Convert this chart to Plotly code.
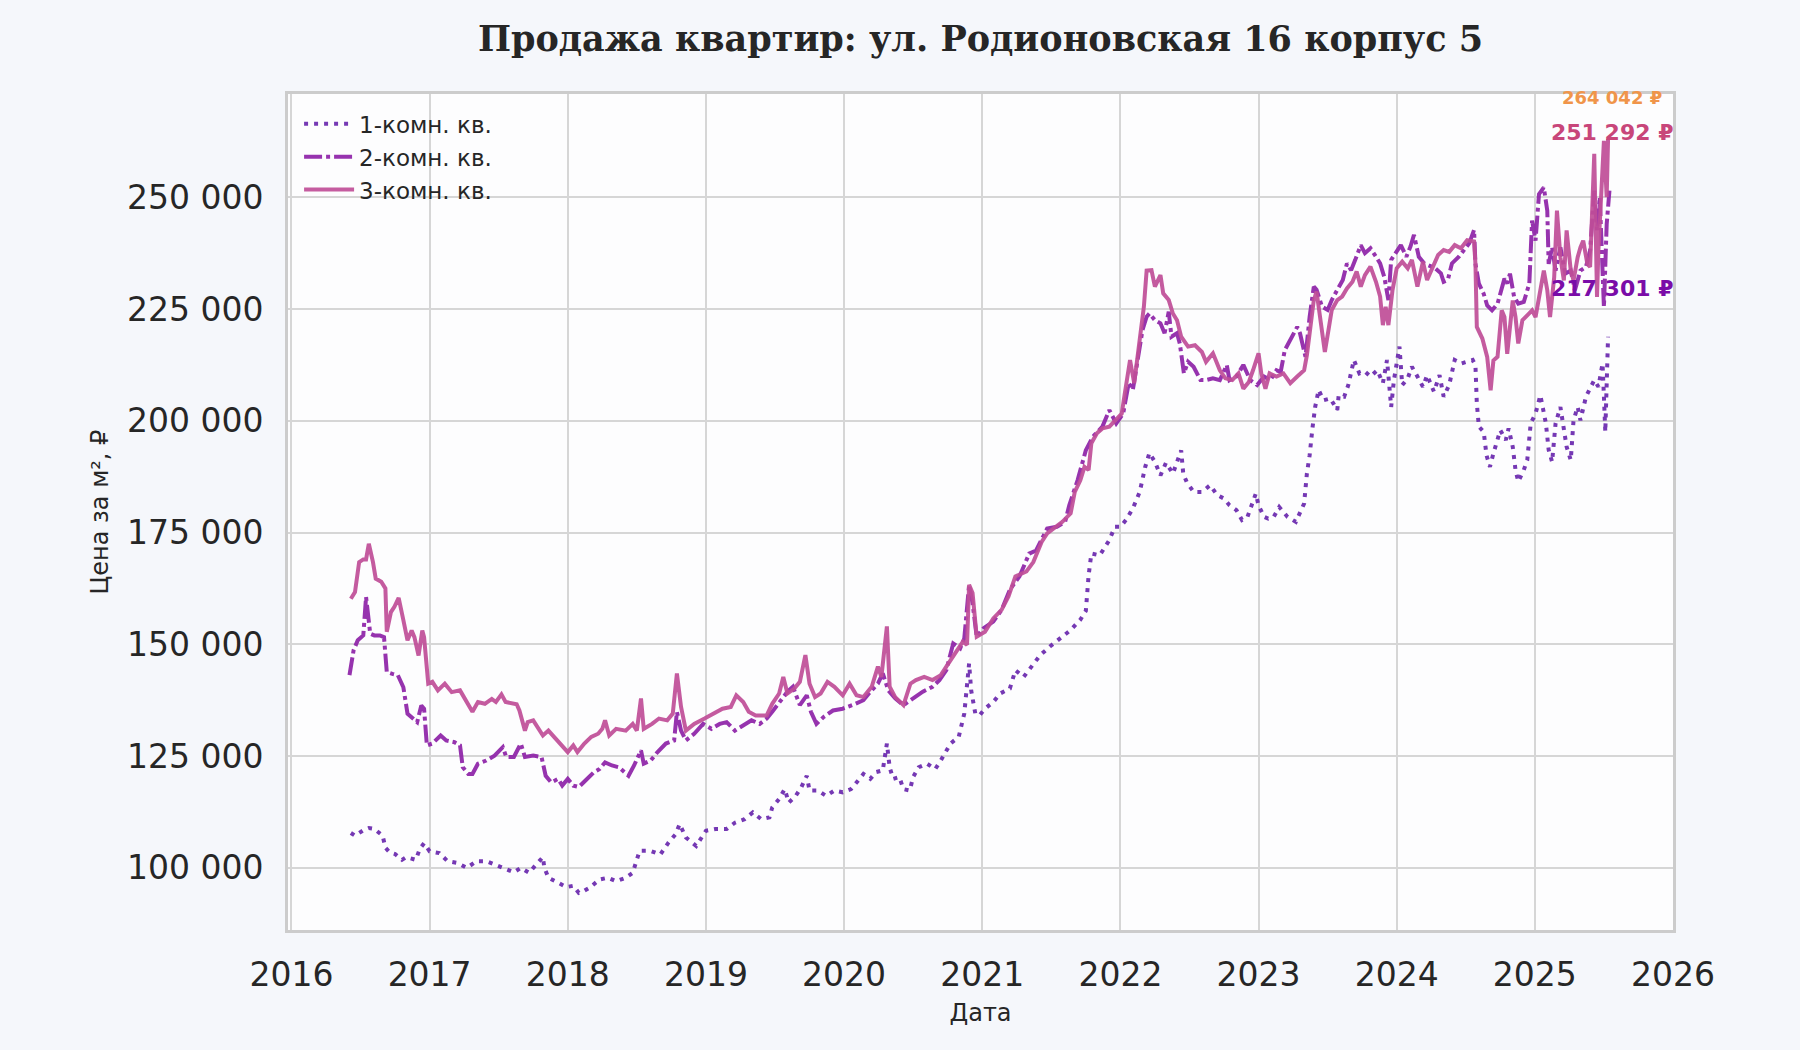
import plotly.graph_objects as go

# даты как доля года, цены в тыс. руб за м2
years_1k = [
    2016.43, 2016.46, 2016.52, 2016.56, 2016.60, 2016.66, 2016.68, 2016.71, 2016.75, 2016.80,
    2016.83, 2016.90, 2016.93, 2016.96, 2017.00, 2017.07, 2017.13, 2017.20, 2017.27, 2017.34,
    2017.41, 2017.49, 2017.55, 2017.61, 2017.66, 2017.72, 2017.77, 2017.82, 2017.83, 2017.86,
    2017.93, 2017.99, 2018.04, 2018.08, 2018.11, 2018.16, 2018.23, 2018.29, 2018.35, 2018.42,
    2018.47, 2018.52, 2018.60, 2018.67, 2018.73, 2018.78, 2018.81, 2018.855, 2018.93, 2019.00,
    2019.07, 2019.15, 2019.21, 2019.28, 2019.34, 2019.40, 2019.46, 2019.48, 2019.53, 2019.57,
    2019.60, 2019.65, 2019.69, 2019.73, 2019.75, 2019.81, 2019.87, 2019.93, 2019.99, 2020.05,
    2020.09, 2020.14, 2020.19, 2020.23, 2020.28, 2020.31, 2020.33, 2020.355, 2020.40, 2020.43,
    2020.475, 2020.50, 2020.54, 2020.60, 2020.66, 2020.70, 2020.77, 2020.83, 2020.87, 2020.905,
    2020.92, 2020.95, 2020.98, 2021.02, 2021.08, 2021.13, 2021.20, 2021.24, 2021.30, 2021.36,
    2021.42, 2021.49, 2021.56, 2021.64, 2021.71, 2021.75, 2021.77, 2021.79, 2021.85, 2021.92,
    2021.96, 2022.00, 2022.04, 2022.09, 2022.14, 2022.18, 2022.21, 2022.25, 2022.29, 2022.33,
    2022.38, 2022.44, 2022.455, 2022.48, 2022.53, 2022.59, 2022.65, 2022.70, 2022.75, 2022.79,
    2022.84, 2022.88, 2022.92, 2022.98, 2023.00, 2023.04, 2023.07, 2023.11, 2023.15, 2023.21,
    2023.27, 2023.33, 2023.35, 2023.37, 2023.39, 2023.41, 2023.435, 2023.47, 2023.52, 2023.57,
    2023.58, 2023.62, 2023.65, 2023.69, 2023.73, 2023.77, 2023.81, 2023.86, 2023.90, 2023.93,
    2023.96, 2023.98, 2024.02, 2024.04, 2024.08, 2024.11, 2024.15, 2024.19, 2024.22, 2024.27,
    2024.31, 2024.34, 2024.38, 2024.42, 2024.465, 2024.51, 2024.55, 2024.57, 2024.58, 2024.595,
    2024.63, 2024.65, 2024.675, 2024.70, 2024.75, 2024.79, 2024.81, 2024.84, 2024.86, 2024.88,
    2024.92, 2024.945, 2024.97, 2025.005, 2025.04, 2025.08, 2025.10, 2025.125, 2025.15, 2025.185,
    2025.21, 2025.23, 2025.26, 2025.28, 2025.31, 2025.33, 2025.37, 2025.40, 2025.43, 2025.46,
    2025.49, 2025.50, 2025.51, 2025.52, 2025.53,
]
price_1k = [
    107.8, 107.2, 108.4, 108.9, 108.7, 107.2, 104.5, 103.5, 103.1, 101.8,
    102.4, 101.8, 104.3, 105.5, 103.7, 103.3, 101.5, 101.1, 100.0, 101.5,
    101.5, 100.5, 99.8, 99.0, 100.0, 98.9, 100.7, 102.4, 100.1, 97.8,
    96.7, 95.7, 96.0, 94.4, 94.7, 95.6, 97.4, 97.8, 97.0, 97.8,
    98.9, 103.8, 103.8, 103.0, 105.7, 107.5, 109.8, 106.8, 104.9, 108.3,
    108.7, 108.7, 110.1, 110.9, 112.4, 110.9, 111.3, 113.5, 115.4, 117.6,
    114.6, 116.1, 118.0, 120.6, 117.3, 117.3, 116.1, 117.3, 116.9, 117.6,
    119.1, 121.0, 119.9, 121.4, 121.8, 127.8, 122.5, 119.9, 120.3, 117.6,
    117.3, 120.3, 122.5, 123.3, 122.1, 124.0, 127.8, 129.3, 134.5, 145.7,
    139.7, 134.5, 134.1, 135.6, 137.1, 139.0, 140.1, 144.2, 142.7, 145.0,
    147.6, 149.5, 151.3, 153.2, 155.5, 157.5, 165.4, 170.3, 169.9, 173.3,
    176.3, 176.3, 177.8, 180.4, 184.1, 189.7, 192.8, 190.8, 187.8, 190.6,
    188.2, 193.4, 188.2, 186.3, 184.1, 184.1, 185.6, 183.4, 182.6, 181.1,
    180.0, 177.8, 178.5, 183.7, 181.1, 178.5, 178.1, 178.5, 180.7, 178.5,
    177.4, 181.5, 188.2, 192.3, 198.3, 203.1, 206.9, 204.6, 205.0, 202.4,
    205.7, 205.4, 208.0, 213.6, 210.6, 211.0, 209.9, 211.3, 208.4, 213.6,
    203.1, 209.1, 216.6, 208.0, 209.5, 212.1, 209.9, 207.6, 210.2, 206.5,
    210.2, 205.4, 208.0, 213.6, 212.8, 213.2, 213.6, 212.4, 203.9, 198.7,
    197.5, 192.3, 189.7, 192.7, 197.9, 195.7, 198.3, 194.2, 189.0, 186.4,
    189.0, 191.2, 199.4, 201.6, 205.7, 199.4, 193.5, 190.8, 199.4, 203.1,
    197.2, 194.2, 191.2, 200.1, 203.1, 200.1, 205.4, 207.2, 209.1, 207.6,
    212.8, 205.4, 197.5, 208.3, 218.8,
]

years_2k = [
    2016.42, 2016.45, 2016.48, 2016.52, 2016.54, 2016.56, 2016.57, 2016.60, 2016.64, 2016.67,
    2016.69, 2016.73, 2016.77, 2016.81, 2016.84, 2016.88, 2016.91, 2016.94, 2016.96, 2016.98,
    2017.02, 2017.08, 2017.12, 2017.18, 2017.22, 2017.24, 2017.28, 2017.31, 2017.35, 2017.41,
    2017.47, 2017.53, 2017.555, 2017.61, 2017.66, 2017.69, 2017.75, 2017.81, 2017.84, 2017.88,
    2017.93, 2017.96, 2018.00, 2018.04, 2018.08, 2018.13, 2018.19, 2018.23, 2018.27, 2018.32,
    2018.37, 2018.44, 2018.48, 2018.53, 2018.55, 2018.60, 2018.65, 2018.71, 2018.77, 2018.79,
    2018.82, 2018.855, 2018.915, 2018.98, 2019.04, 2019.10, 2019.15, 2019.21, 2019.27, 2019.33,
    2019.39, 2019.44, 2019.48, 2019.53, 2019.59, 2019.63, 2019.68, 2019.73, 2019.76, 2019.80,
    2019.85, 2019.92, 2019.99, 2020.06, 2020.14, 2020.19, 2020.245, 2020.28, 2020.32, 2020.37,
    2020.43, 2020.50, 2020.57, 2020.64, 2020.69, 2020.74, 2020.79, 2020.84, 2020.87, 2020.905,
    2020.93, 2020.96, 2021.01, 2021.08, 2021.14, 2021.20, 2021.27, 2021.34, 2021.39, 2021.47,
    2021.54, 2021.60, 2021.63, 2021.69, 2021.75, 2021.80, 2021.87, 2021.92, 2021.97, 2022.02,
    2022.06, 2022.09, 2022.13, 2022.16, 2022.19, 2022.21, 2022.25, 2022.29, 2022.32, 2022.35,
    2022.37, 2022.41, 2022.43, 2022.46, 2022.49, 2022.53, 2022.58, 2022.62, 2022.67, 2022.72,
    2022.77, 2022.79, 2022.84, 2022.89, 2022.94, 2022.99, 2023.04, 2023.085, 2023.13, 2023.16,
    2023.19, 2023.23, 2023.28, 2023.30, 2023.34, 2023.37, 2023.40, 2023.42, 2023.46, 2023.50,
    2023.53, 2023.57, 2023.61, 2023.64, 2023.67, 2023.70, 2023.74, 2023.77, 2023.81, 2023.85,
    2023.88, 2023.91, 2023.94, 2023.96, 2023.99, 2024.03, 2024.07, 2024.10, 2024.125, 2024.16,
    2024.20, 2024.25, 2024.28, 2024.32, 2024.34, 2024.37, 2024.40, 2024.45, 2024.49, 2024.525,
    2024.56, 2024.57, 2024.595, 2024.63, 2024.655, 2024.69, 2024.73, 2024.75, 2024.78, 2024.80,
    2024.82, 2024.85, 2024.88, 2024.92, 2024.96, 2024.98, 2025.005, 2025.03, 2025.065, 2025.09,
    2025.10, 2025.125, 2025.15, 2025.185, 2025.22, 2025.26, 2025.29, 2025.33, 2025.37, 2025.40,
    2025.43, 2025.45, 2025.47, 2025.50, 2025.52, 2025.54,
]
price_2k = [
    143.1, 148.7, 150.9, 152.0, 160.6, 156.1, 152.4, 152.0, 152.0, 151.6,
    143.8, 143.4, 143.1, 140.4, 134.5, 133.4, 132.6, 136.3, 135.6, 127.4,
    127.8, 129.6, 128.5, 128.1, 127.4, 122.5, 121.0, 121.0, 123.3, 124.0,
    125.1, 127.0, 124.8, 124.8, 127.8, 124.8, 125.1, 124.8, 120.6, 119.1,
    119.9, 118.4, 119.9, 118.4, 118.1, 119.6, 121.4, 122.1, 123.6, 122.9,
    122.5, 120.6, 122.9, 126.3, 123.3, 124.0, 125.9, 127.8, 128.5, 134.9,
    130.7, 128.5, 130.0, 132.2, 131.1, 132.2, 132.6, 130.7, 131.9, 133.0,
    132.2, 133.4, 134.9, 137.1, 139.4, 140.5, 136.4, 138.6, 134.9, 132.2,
    133.7, 135.2, 135.6, 136.4, 137.5, 139.4, 141.2, 143.5, 139.7, 137.9,
    136.4, 137.9, 139.4, 140.5, 142.0, 144.2, 150.2, 149.1, 151.3, 163.3,
    159.2, 151.7, 153.6, 155.1, 157.7, 162.2, 165.2, 170.3, 171.0, 175.9,
    176.3, 177.4, 181.1, 186.7, 193.4, 196.4, 198.7, 202.4, 199.4, 201.6,
    208.4, 206.9, 214.3, 220.3, 223.3, 224.0, 222.5, 221.8, 219.6, 224.4,
    218.8, 219.6, 217.3, 210.6, 213.2, 212.1, 209.1, 209.1, 209.5, 209.1,
    212.5, 209.1, 209.9, 212.5, 209.1, 208.0, 209.9, 209.1, 211.3, 210.9,
    215.8, 218.1, 221.0, 219.6, 214.3, 223.3, 230.0, 229.3, 225.5, 224.8,
    227.0, 229.3, 231.5, 235.2, 233.7, 236.0, 239.3, 237.5, 238.6, 236.7,
    235.2, 232.2, 227.0, 236.0, 237.5, 239.3, 236.7, 239.0, 241.6, 236.7,
    235.2, 234.5, 234.1, 233.0, 231.1, 231.5, 235.2, 236.7, 238.2, 239.7,
    242.7, 235.1, 230.7, 228.4, 225.8, 224.7, 226.2, 228.4, 231.8, 230.7,
    232.9, 227.7, 226.2, 226.6, 230.7, 244.8, 240.3, 250.7, 252.2, 247.0,
    235.1, 238.8, 233.6, 238.8, 232.9, 233.6, 229.2, 233.6, 234.4, 238.1,
    251.5, 242.6, 250.0, 225.4, 244.0, 251.5,
]

years_3k = [
    2016.43, 2016.46, 2016.49, 2016.52, 2016.54, 2016.56, 2016.59, 2016.61, 2016.65, 2016.68,
    2016.69, 2016.72, 2016.745, 2016.776, 2016.81, 2016.84, 2016.87, 2016.89, 2016.92, 2016.947,
    2016.96, 2016.99, 2017.02, 2017.06, 2017.11, 2017.16, 2017.22, 2017.26, 2017.31, 2017.35,
    2017.40, 2017.45, 2017.48, 2017.52, 2017.55, 2017.63, 2017.65, 2017.69, 2017.71, 2017.75,
    2017.78, 2017.82, 2017.86, 2017.92, 2018.00, 2018.04, 2018.07, 2018.12, 2018.17, 2018.22,
    2018.25, 2018.27, 2018.30, 2018.35, 2018.42, 2018.47, 2018.50, 2018.53, 2018.55, 2018.61,
    2018.66, 2018.72, 2018.76, 2018.79, 2018.82, 2018.855, 2018.915, 2018.99, 2019.05, 2019.12,
    2019.18, 2019.22, 2019.27, 2019.31, 2019.36, 2019.44, 2019.48, 2019.53, 2019.56, 2019.59,
    2019.64, 2019.68, 2019.72, 2019.75, 2019.79, 2019.83, 2019.88, 2019.93, 2019.99, 2020.04,
    2020.09, 2020.14, 2020.20, 2020.245, 2020.27, 2020.31, 2020.33, 2020.37, 2020.43, 2020.48,
    2020.52, 2020.58, 2020.64, 2020.70, 2020.74, 2020.80, 2020.86, 2020.89, 2020.905, 2020.93,
    2020.96, 2021.02, 2021.08, 2021.14, 2021.19, 2021.24, 2021.32, 2021.37, 2021.43, 2021.47,
    2021.53, 2021.58, 2021.64, 2021.67, 2021.71, 2021.74, 2021.77, 2021.79, 2021.83, 2021.87,
    2021.92, 2021.96, 2022.01, 2022.03, 2022.07, 2022.10, 2022.14, 2022.17, 2022.19, 2022.225,
    2022.25, 2022.29, 2022.31, 2022.35, 2022.38, 2022.41, 2022.44, 2022.49, 2022.54, 2022.59,
    2022.62, 2022.67, 2022.72, 2022.76, 2022.81, 2022.855, 2022.89, 2022.93, 2022.96, 2023.00,
    2023.02, 2023.05, 2023.08, 2023.13, 2023.18, 2023.23, 2023.28, 2023.33, 2023.35, 2023.375,
    2023.40, 2023.42, 2023.45, 2023.48, 2023.51, 2023.53, 2023.57, 2023.605, 2023.64, 2023.68,
    2023.71, 2023.74, 2023.77, 2023.81, 2023.85, 2023.88, 2023.90, 2023.92, 2023.94, 2023.97,
    2024.00, 2024.04, 2024.08, 2024.11, 2024.15, 2024.19, 2024.22, 2024.26, 2024.30, 2024.34,
    2024.38, 2024.42, 2024.465, 2024.51, 2024.56, 2024.57, 2024.58, 2024.62, 2024.655, 2024.68,
    2024.70, 2024.73, 2024.76, 2024.78, 2024.80, 2024.84, 2024.86, 2024.88, 2024.91, 2024.945,
    2024.98, 2025.005, 2025.04, 2025.065, 2025.09, 2025.11, 2025.14, 2025.16, 2025.185, 2025.21,
    2025.23, 2025.26, 2025.28, 2025.31, 2025.33, 2025.35, 2025.38, 2025.40, 2025.43, 2025.45,
    2025.46, 2025.49, 2025.50, 2025.52, 2025.53,
]
price_3k = [
    160.2, 161.7, 168.4, 169.0, 169.0, 172.5, 168.4, 164.7, 164.0, 162.5,
    152.8, 157.2, 158.4, 160.4, 155.4, 150.9, 153.1, 151.6, 147.5, 153.1,
    151.6, 141.2, 141.6, 139.7, 141.2, 139.3, 139.7, 137.5, 134.9, 137.1,
    136.7, 137.8, 137.1, 138.8, 137.1, 136.6, 135.2, 130.7, 132.6, 133.0,
    131.5, 129.6, 130.7, 128.5, 125.9, 127.4, 125.9, 127.8, 129.3, 130.0,
    131.1, 133.0, 129.6, 131.1, 130.7, 132.2, 130.7, 137.9, 131.1, 132.2,
    133.4, 133.0, 134.5, 143.5, 136.0, 130.7, 132.2, 133.4, 134.5, 135.6,
    136.0, 138.6, 137.1, 134.9, 134.1, 134.1, 136.7, 139.0, 142.7, 139.0,
    140.1, 141.6, 147.6, 141.2, 138.2, 139.0, 141.6, 140.5, 138.6, 141.2,
    138.6, 138.2, 140.5, 145.0, 142.7, 154.0, 140.5, 138.2, 136.4, 141.2,
    142.0, 142.7, 142.0, 143.1, 145.0, 148.0, 150.6, 149.9, 163.3, 161.5,
    151.7, 152.8, 155.8, 157.7, 160.7, 165.2, 166.3, 168.4, 172.9, 174.8,
    176.3, 177.4, 179.3, 184.1, 186.7, 189.7, 189.0, 195.0, 197.2, 198.3,
    198.7, 200.1, 201.6, 205.7, 213.6, 208.4, 218.8, 225.5, 233.6, 233.7,
    230.0, 232.6, 228.5, 227.0, 224.0, 222.5, 218.8, 216.6, 216.9, 215.4,
    213.2, 215.1, 211.3, 209.5, 209.1, 210.6, 207.2, 208.7, 211.3, 215.1,
    210.6, 207.2, 210.6, 209.9, 210.6, 208.4, 209.9, 211.3, 214.7, 221.8,
    227.0, 228.9, 222.5, 215.4, 221.0, 224.8, 227.0, 227.8, 229.6, 231.1,
    233.4, 230.0, 232.6, 234.5, 231.1, 227.8, 221.4, 225.5, 221.4, 229.3,
    234.1, 235.6, 234.1, 236.0, 230.0, 235.6, 231.5, 234.1, 237.1, 238.2,
    237.8, 239.3, 238.6, 240.4, 240.1, 235.1, 221.0, 218.4, 214.3, 206.8,
    213.5, 214.3, 224.7, 223.2, 215.0, 226.9, 223.2, 217.3, 222.5, 223.6,
    224.7, 223.2, 229.9, 233.6, 229.2, 223.2, 232.1, 247.0, 236.6, 231.4,
    242.6, 233.6, 231.4, 236.6, 238.8, 240.3, 235.1, 234.4, 259.7, 227.7,
    238.1, 256.0, 262.6, 250.0, 263.0,
]

series_names = ["1-комн. кв.", "2-комн. кв.", "3-комн. кв."]
series_colors = ["#6a28ae", "#8e22a8", "#c04e98"]
series_dash = ["4px,6px", "18px,4px,4px,4px", "solid"]

label_texts = ["264 042 ₽", "251 292 ₽", "217 301 ₽"]
label_values = [272300, 264400, 229700]
label_colors = ["#f0954a", "#c8467a", "#7a0ca8"]
label_sizes = [18, 22, 22]

fig = go.Figure()
for name, xs, ys, color, dash in zip(
    series_names,
    [years_1k, years_2k, years_3k],
    [price_1k, price_2k, price_3k],
    series_colors,
    series_dash,
):
    fig.add_trace(go.Scatter(
        x=xs,
        y=[v * 1000 for v in ys],
        mode="lines",
        name=name,
        opacity=0.92,
        line=dict(color=color, width=4, dash=dash),
    ))

for text, val, color, size in zip(label_texts, label_values, label_colors, label_sizes):
    fig.add_annotation(
        x=2025.555, y=val, xref="x", yref="y",
        text="<b>%s</b>" % text, showarrow=False,
        xanchor="center", yanchor="middle",
        font=dict(family="DejaVu Sans", size=size, color=color),
    )

fig.update_layout(
    width=1800,
    height=1050,
    paper_bgcolor="#f5f7fb",
    plot_bgcolor="#fdfdfe",
    separators=", ",
    font=dict(family="DejaVu Sans", color="#262626"),
    margin=dict(l=288, r=127, t=94, b=120),
    title=dict(
        text="<b>Продажа квартир: ул. Родионовская 16 корпус 5</b>",
        x=0.5, xref="paper", xanchor="center",
        y=1 - 39 / 1050, yanchor="middle",
        font=dict(family="DejaVu Serif", size=35, color="#262626"),
    ),
    legend=dict(
        x=0.008, y=0.99, xanchor="left", yanchor="top",
        bgcolor="rgba(0,0,0,0)",
        font=dict(size=23, color="#262626"),
        itemwidth=50,
    ),
    showlegend=True,
)

fig.update_xaxes(
    range=[2015.975, 2026.0],
    tick0=2016, dtick=1,
    showgrid=True, gridcolor="#d6d6d6", gridwidth=2,
    showline=True, mirror=True, linecolor="#cccccc", linewidth=3,
    ticks="outside", ticklen=13, tickcolor="rgba(0,0,0,0)",
    tickfont=dict(size=33),
    zeroline=False,
    title=dict(text="Дата", font=dict(size=24), standoff=12),
)
fig.update_yaxes(
    range=[86100, 273100],
    tick0=0, dtick=25000, tickformat=",d",
    showgrid=True, gridcolor="#d6d6d6", gridwidth=2,
    showline=True, mirror=True, linecolor="#cccccc", linewidth=3,
    ticks="outside", ticklen=15, tickcolor="rgba(0,0,0,0)",
    tickfont=dict(size=33),
    zeroline=False,
    title=dict(text="Цена за м², ₽", font=dict(size=24), standoff=12),
)

fig.write_html(
    "out.html",
    config={"displayModeBar": False},
    post_script="document.body.style.margin='0px';",
)
